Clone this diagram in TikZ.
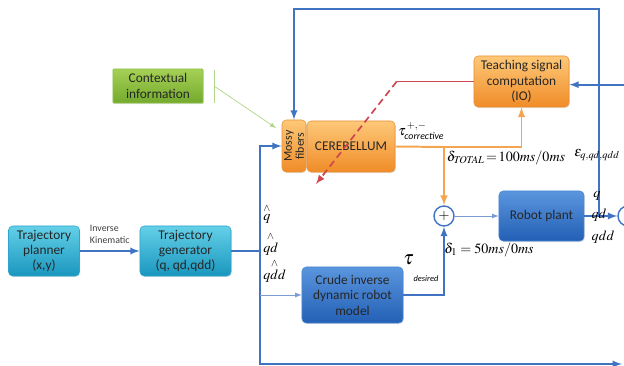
\documentclass[tikz,border=0pt]{standalone}
\usepackage{amsmath}
\usepackage{mathptmx}
\usepackage{fontspec}
\setsansfont{Carlito}
\usetikzlibrary{shadows}

\definecolor{cyantop}{RGB}{100,208,232}
\definecolor{cyanbot}{RGB}{25,150,190}
\definecolor{cyanline}{RGB}{45,165,205}
\definecolor{orangetop}{RGB}{253,200,120}
\definecolor{orangebot}{RGB}{240,140,40}
\definecolor{orangeline}{RGB}{232,145,55}
\definecolor{bluetop}{RGB}{90,150,222}
\definecolor{bluebot}{RGB}{35,95,180}
\definecolor{blueline}{RGB}{75,135,210}
\definecolor{greentop}{RGB}{165,208,85}
\definecolor{greenbot}{RGB}{115,170,45}
\definecolor{greenline}{RGB}{145,195,75}
\definecolor{linkblue}{RGB}{65,115,195}
\definecolor{linkorange}{RGB}{245,165,80}
\definecolor{linkred}{RGB}{205,70,80}
\definecolor{linkgreen}{RGB}{175,215,135}

\begin{document}
\begin{tikzpicture}[x=0.025cm, y=-0.025cm,
    blk/.style={rounded corners=3pt, align=center, text=black!85,
        font=\sffamily\fontsize{9.5}{11}\selectfont, inner sep=1pt,
        drop shadow={opacity=0.2, shadow xshift=0.6pt, shadow yshift=-0.8pt}},
    cyanblk/.style={blk, top color=cyantop, bottom color=cyanbot, draw=cyanline},
    orangeblk/.style={blk, top color=orangetop, bottom color=orangebot, draw=orangeline},
    blueblk/.style={blk, top color=bluetop, bottom color=bluebot, draw=blueline},
    greenblk/.style={blk, rounded corners=0.5pt, top color=greentop, bottom color=greenbot, draw=greenline},
    sum/.style={circle, draw=linkblue, line width=1pt, fill=white, minimum size=0.5cm, inner sep=0pt},
    link/.style={draw=linkblue, line width=1.3pt},
    thinlink/.style={draw=linkblue!70, line width=0.6pt},
    olink/.style={draw=linkorange, line width=1.4pt},
    redlink/.style={draw=linkred, line width=1.2pt},
    glink/.style={draw=linkgreen, line width=0.5pt},
    lbl/.style={font=\fontsize{10}{12}\selectfont, inner sep=0pt}]
    \useasboundingbox (0,0) rectangle (624,366);
    \clip (0,0) rectangle (624,366);

    % blocks
    \node[cyanblk, minimum width=1.775cm, minimum height=1.25cm] (planner) at (44,251) {Trajectory\\planner\\(x,y)};
    \node[cyanblk, minimum width=2.275cm, minimum height=1.25cm] (generator) at (185.5,251) {Trajectory\\generator\\(q, qd,qdd)};
    \node[greenblk, minimum width=2.25cm, minimum height=0.85cm] (context) at (158,86) {Contextual\\information};
    \node[orangeblk, minimum width=0.6cm, minimum height=1.3cm] (mossy) at (294,146) {};
    \node[rotate=90, align=center, font=\sffamily\fontsize{8.5}{8.5}\selectfont, text=black!85] (mossytxt) at (mossy) {Mossy\\fibers};
    \node[orangeblk, minimum width=2.2cm, minimum height=1.275cm] (cerebellum) at (351,146.5) {CEREBELLUM};
    \node[orangeblk, minimum width=2.375cm, minimum height=1.275cm] (teaching) at (521.5,81.5) {Teaching signal\\computation\\(IO)};
    \node[sum] (sum) at (444,216) {$+$};
    \node[blueblk, minimum width=2.125cm, minimum height=1.25cm] (plant) at (541.5,216) {Robot plant};
    \node[blueblk, minimum width=2.525cm, minimum height=1.4cm] (crude) at (352.5,295) {Crude inverse\\dynamic robot\\model};
    \node[sum] (error) at (628,216) {};

    \coordinate (split) at (260,251);
    \coordinate (busend) at (622,364);
    \coordinate (tap) at (599,216);
    \coordinate (top) at (294,9);
    \coordinate (corr) at (444,147);
    \coordinate (ctxtick) at (214,86);
    \coordinate (ctxin) at (276,128);
    \coordinate (redtip) at (316,184);
    \coordinate (fb) at (634,252);

    % connectors
    \draw[link,-latex] (planner) -- (generator)
        node[midway, above=1pt, align=left, font=\sffamily\fontsize{7}{8.5}\selectfont, text=black!75] (ik) {Inverse\\Kinematic};
    \draw[link] (generator.east) -- (split);
    \draw[link,-latex] (split) |- (mossy.west);
    \draw[link,-latex] (split) |- (busend);
    \draw[thinlink,-latex] (split |- crude.west) -- (crude.west);
    \draw[link,-latex] (tap) |- (top) -- (mossy.north);
    \draw[link,-latex] (plant.east) -- (error.west);
    \draw[link,-latex] (error.east) -- ++(8,0) |- ([yshift=-0.08cm]teaching.east);
    \draw[link,-latex] (fb) -- (error.south);
    \draw[olink] (cerebellum.east) -- (corr);
    \draw[olink,-latex] (corr) -| (teaching.south);
    \draw[olink,-latex] (corr) -- (sum.north);
    \draw[link,-latex] (crude.east) -| (sum.south);
    \draw[thinlink,-latex] (sum.east) -- (plant.west);
    \draw[redlink] (teaching.west) -- ++(-77,0) coordinate (bend);
    \draw[redlink, dash pattern=on 5pt off 3pt, -latex] (bend) -- (redtip);
    \draw[glink] (214,70) -- (214,103);
    \draw[glink,-latex] (ctxtick) -- (ctxin);

    % labels
    \node[lbl, anchor=west] (taucorr) at (398,131) {$\tau^{\,+,-}_{\text{\sffamily\itshape\fontsize{7}{8}\selectfont corrective}}$};
    \node[lbl] (dtotal) at (506,158) {$\delta_{\mathit{TOTAL}}\!=\!100ms/0ms$};
    \node[lbl] (eps) at (597,155) {$\varepsilon_{q,qd,qdd}$};
    \node[lbl] (qlbl) at (597,196) {$q$};
    \node[lbl] (qdlbl) at (599,215) {$qd$};
    \node[lbl] (qddlbl) at (603,237) {$qdd$};
    \node[lbl] (done) at (489,250) {$\delta_1 = 50ms/0ms$};
    \node[lbl, anchor=west] (taudes) at (403,268) {\fontsize{14}{14}\selectfont$\boldsymbol{\tau}$\raisebox{-2ex}{\sffamily\itshape\fontsize{6}{7}\selectfont desired}};
    \node[lbl, anchor=west] (qhat) at (263,214) {$\overset{\wedge}{q}$};
    \node[lbl, anchor=west] (qdhat) at (263,244) {$\overset{\wedge}{qd}$};
    \node[lbl, anchor=west] (qddhat) at (263,271) {$\overset{\wedge}{qdd}$};
\end{tikzpicture}
\end{document}
